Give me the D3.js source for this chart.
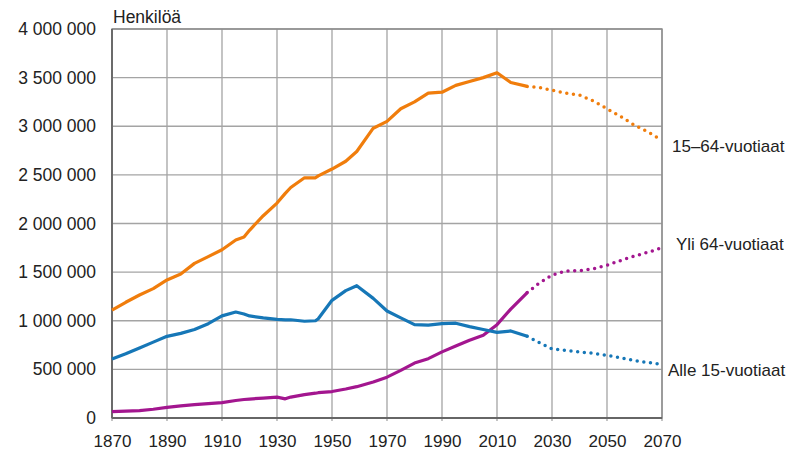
<!DOCTYPE html>
<html>
<head>
<meta charset="utf-8">
<script src="https://cdnjs.cloudflare.com/ajax/libs/d3/7.8.5/d3.min.js"></script>
<style>
  body { margin: 0; background: #fff; }
  text { font-family: "Liberation Sans", Arial, sans-serif; fill: #222; }
</style>
</head>
<body>
<script>
// observed years (solid lines)
var histYears = [1870, 1875, 1880, 1885, 1890, 1895, 1900, 1905, 1910, 1915, 1918, 1920, 1925, 1930, 1933, 1935,
                 1940, 1944, 1945, 1950, 1955, 1959, 1965, 1970, 1975, 1980, 1985, 1990, 1995, 2000, 2005, 2010, 2015, 2021];
var working = [1110000, 1190000, 1265000, 1330000, 1420000, 1480000, 1590000, 1660000, 1730000, 1830000, 1860000, 1930000,
               2080000, 2210000, 2310000, 2370000, 2470000, 2470000, 2490000, 2560000, 2640000, 2740000, 2980000, 3050000,
               3180000, 3250000, 3340000, 3350000, 3420000, 3460000, 3500000, 3550000, 3450000, 3410000];
var children = [607000, 660000, 720000, 780000, 840000, 870000, 910000, 970000, 1050000, 1090000, 1070000, 1050000,
                1030000, 1015000, 1010000, 1010000, 995000, 1000000, 1020000, 1210000, 1310000, 1360000, 1230000, 1100000,
                1030000, 960000, 955000, 970000, 975000, 940000, 910000, 880000, 895000, 840000];
var elderly = [65000, 70000, 76000, 90000, 110000, 125000, 138000, 148000, 158000, 180000, 190000, 195000,
               205000, 215000, 197000, 215000, 240000, 255000, 260000, 272000, 298000, 322000, 370000, 420000,
               490000, 565000, 610000, 680000, 740000, 800000, 850000, 960000, 1120000, 1290000];

// projection years (dotted lines)
var projYears = [2021, 2025, 2030, 2035, 2040, 2045, 2050, 2055, 2060, 2065, 2070];
var workingProj = [3410000, 3400000, 3370000, 3340000, 3320000, 3260000, 3180000, 3100000, 3010000, 2940000, 2855000];
var childrenProj = [840000, 780000, 710000, 695000, 680000, 665000, 645000, 620000, 590000, 570000, 552000];
var elderlyProj = [1290000, 1380000, 1470000, 1510000, 1515000, 1535000, 1570000, 1620000, 1665000, 1705000, 1750000];

var xTicks = [1870, 1890, 1910, 1930, 1950, 1970, 1990, 2010, 2030, 2050, 2070];
var yTicks = [0, 500000, 1000000, 1500000, 2000000, 2500000, 3000000, 3500000, 4000000];
var seriesNames = ["15–64-vuotiaat", "Yli 64-vuotiaat", "Alle 15-vuotiaat"];

var W = 792, H = 452;
var padL = 112, padR = 662, padT = 29, padB = 418;

var svg = d3.select("body").append("svg")
    .attr("width", W)
    .attr("height", H);

var x = d3.scaleLinear().domain([1870, 2070]).range([padL, padR]);
var y = d3.scaleLinear().domain([0, 4000000]).range([padB, padT]);

var fmt = function(d) { return d3.format(",")(d).replace(/,/g, " "); };

// grid
svg.append("g").selectAll("line").data(yTicks).enter().append("line")
    .attr("x1", padL).attr("x2", padR)
    .attr("y1", function(d) { return y(d); })
    .attr("y2", function(d) { return y(d); })
    .attr("stroke", "#a4a4a4").attr("stroke-width", 1.3);

svg.append("g").selectAll("line").data(xTicks).enter().append("line")
    .attr("x1", function(d) { return x(d); })
    .attr("x2", function(d) { return x(d); })
    .attr("y1", padT).attr("y2", padB + 3)
    .attr("stroke", "#a4a4a4").attr("stroke-width", 1.3);

// frame
svg.append("rect")
    .attr("x", padL).attr("y", padT)
    .attr("width", padR - padL).attr("height", padB - padT)
    .attr("fill", "none").attr("stroke", "#8c8c8c").attr("stroke-width", 1.4);
svg.append("line").attr("x1", padL).attr("x2", padL).attr("y1", padT).attr("y2", padB)
    .attr("stroke", "#666").attr("stroke-width", 1.8);
svg.append("line").attr("x1", padL).attr("x2", padR).attr("y1", padB).attr("y2", padB)
    .attr("stroke", "#666").attr("stroke-width", 1.8);

// axes labels
var yAxis = d3.axisLeft(y).tickValues(yTicks).tickFormat(fmt).tickSize(0).tickPadding(16);
var gy = svg.append("g").attr("transform", "translate(" + padL + ",0)").call(yAxis);
gy.select(".domain").remove();
gy.selectAll("text").style("font-size", "17.5px").attr("fill", "#222");

var xAxis = d3.axisBottom(x).tickValues(xTicks).tickFormat(d3.format("d")).tickSize(0).tickPadding(17);
var gx = svg.append("g").attr("transform", "translate(0," + padB + ")").call(xAxis);
gx.select(".domain").remove();
gx.selectAll("text").style("font-size", "17px").attr("fill", "#222");

svg.append("text").attr("x", 113).attr("y", 23).style("font-size", "17.5px").text("Henkilöä");

// lines
var line = d3.line()
    .x(function(d) { return x(d[0]); })
    .y(function(d) { return y(d[1]); });

var colors = ["#f07d0c", "#a3168f", "#1677b7"];
var hist = [working, elderly, children];
var proj = [workingProj, elderlyProj, childrenProj];

hist.forEach(function(vals, i) {
    svg.append("path")
        .datum(histYears.map(function(yr, j) { return [yr, vals[j]]; }))
        .attr("d", line)
        .attr("fill", "none")
        .attr("stroke", colors[i])
        .attr("stroke-width", 3.2)
        .attr("stroke-linejoin", "round");
});

proj.forEach(function(vals, i) {
    svg.append("path")
        .datum(projYears.map(function(yr, j) { return [yr, vals[j]]; }))
        .attr("d", line)
        .attr("fill", "none")
        .attr("stroke", colors[i])
        .attr("stroke-width", 3.5)
        .attr("stroke-linecap", "round")
        .attr("stroke-dasharray", "0,6.7");
});

// end labels
var labelPos = [[672, 152], [676, 250], [668, 376]];
seriesNames.forEach(function(name, i) {
    svg.append("text")
        .attr("x", labelPos[i][0]).attr("y", labelPos[i][1])
        .style("font-size", "17px")
        .text(name);
});
</script>
</body>
</html>
